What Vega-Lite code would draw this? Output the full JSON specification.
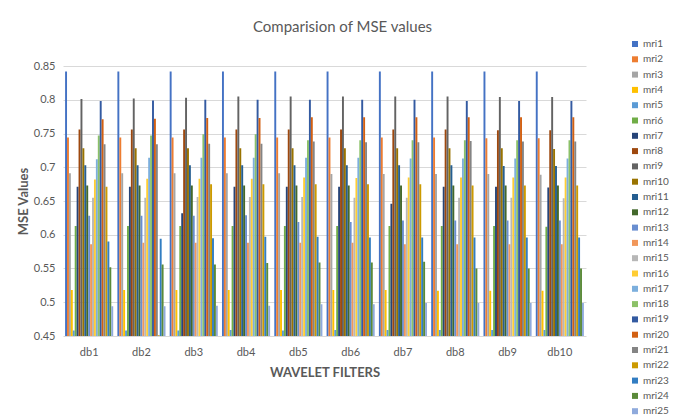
{
"$schema": "https://vega.github.io/schema/vega-lite/v6.json",
"width": 523, "height": 270,
"autosize": {"type": "none"},
"padding": {"left": 63, "top": 66, "right": 89, "bottom": 83},
"background": "white",
"title": {"text": "Comparision of MSE values", "font": "Lato", "fontSize": 15, "fontWeight": "normal", "color": "#595959", "offset": 4, "dx": 18},
"data": {"values": [
{"filter":"db1","series":"mri1","mse":0.842},{"filter":"db1","series":"mri2","mse":0.744},{"filter":"db1","series":"mri3","mse":0.691},{"filter":"db1","series":"mri4","mse":0.518},{"filter":"db1","series":"mri5","mse":0.458},{"filter":"db1","series":"mri6","mse":0.613},{"filter":"db1","series":"mri7","mse":0.671},{"filter":"db1","series":"mri8","mse":0.756},{"filter":"db1","series":"mri9","mse":0.801},{"filter":"db1","series":"mri10","mse":0.728},{"filter":"db1","series":"mri11","mse":0.703},{"filter":"db1","series":"mri12","mse":0.673},{"filter":"db1","series":"mri13","mse":0.628},{"filter":"db1","series":"mri14","mse":0.586},{"filter":"db1","series":"mri15","mse":0.655},{"filter":"db1","series":"mri16","mse":0.682},{"filter":"db1","series":"mri17","mse":0.712},{"filter":"db1","series":"mri18","mse":0.747},{"filter":"db1","series":"mri19","mse":0.798},{"filter":"db1","series":"mri20","mse":0.771},{"filter":"db1","series":"mri21","mse":0.734},{"filter":"db1","series":"mri22","mse":0.671},{"filter":"db1","series":"mri23","mse":0.590},{"filter":"db1","series":"mri24","mse":0.552},{"filter":"db1","series":"mri25","mse":0.494},
{"filter":"db2","series":"mri1","mse":0.842},{"filter":"db2","series":"mri2","mse":0.744},{"filter":"db2","series":"mri3","mse":0.691},{"filter":"db2","series":"mri4","mse":0.518},{"filter":"db2","series":"mri5","mse":0.458},{"filter":"db2","series":"mri6","mse":0.613},{"filter":"db2","series":"mri7","mse":0.671},{"filter":"db2","series":"mri8","mse":0.756},{"filter":"db2","series":"mri9","mse":0.802},{"filter":"db2","series":"mri10","mse":0.728},{"filter":"db2","series":"mri11","mse":0.703},{"filter":"db2","series":"mri12","mse":0.673},{"filter":"db2","series":"mri13","mse":0.628},{"filter":"db2","series":"mri14","mse":0.588},{"filter":"db2","series":"mri15","mse":0.655},{"filter":"db2","series":"mri16","mse":0.683},{"filter":"db2","series":"mri17","mse":0.714},{"filter":"db2","series":"mri18","mse":0.747},{"filter":"db2","series":"mri19","mse":0.799},{"filter":"db2","series":"mri20","mse":0.772},{"filter":"db2","series":"mri21","mse":0.734},{"filter":"db2","series":"mri22","mse":0.451},{"filter":"db2","series":"mri23","mse":0.594},{"filter":"db2","series":"mri24","mse":0.556},{"filter":"db2","series":"mri25","mse":0.494},
{"filter":"db3","series":"mri1","mse":0.842},{"filter":"db3","series":"mri2","mse":0.744},{"filter":"db3","series":"mri3","mse":0.691},{"filter":"db3","series":"mri4","mse":0.518},{"filter":"db3","series":"mri5","mse":0.458},{"filter":"db3","series":"mri6","mse":0.613},{"filter":"db3","series":"mri7","mse":0.632},{"filter":"db3","series":"mri8","mse":0.756},{"filter":"db3","series":"mri9","mse":0.803},{"filter":"db3","series":"mri10","mse":0.728},{"filter":"db3","series":"mri11","mse":0.703},{"filter":"db3","series":"mri12","mse":0.673},{"filter":"db3","series":"mri13","mse":0.628},{"filter":"db3","series":"mri14","mse":0.588},{"filter":"db3","series":"mri15","mse":0.656},{"filter":"db3","series":"mri16","mse":0.683},{"filter":"db3","series":"mri17","mse":0.714},{"filter":"db3","series":"mri18","mse":0.749},{"filter":"db3","series":"mri19","mse":0.800},{"filter":"db3","series":"mri20","mse":0.773},{"filter":"db3","series":"mri21","mse":0.735},{"filter":"db3","series":"mri22","mse":0.675},{"filter":"db3","series":"mri23","mse":0.595},{"filter":"db3","series":"mri24","mse":0.556},{"filter":"db3","series":"mri25","mse":0.495},
{"filter":"db4","series":"mri1","mse":0.842},{"filter":"db4","series":"mri2","mse":0.744},{"filter":"db4","series":"mri3","mse":0.691},{"filter":"db4","series":"mri4","mse":0.518},{"filter":"db4","series":"mri5","mse":0.459},{"filter":"db4","series":"mri6","mse":0.613},{"filter":"db4","series":"mri7","mse":0.671},{"filter":"db4","series":"mri8","mse":0.756},{"filter":"db4","series":"mri9","mse":0.805},{"filter":"db4","series":"mri10","mse":0.728},{"filter":"db4","series":"mri11","mse":0.703},{"filter":"db4","series":"mri12","mse":0.673},{"filter":"db4","series":"mri13","mse":0.629},{"filter":"db4","series":"mri14","mse":0.588},{"filter":"db4","series":"mri15","mse":0.656},{"filter":"db4","series":"mri16","mse":0.683},{"filter":"db4","series":"mri17","mse":0.714},{"filter":"db4","series":"mri18","mse":0.749},{"filter":"db4","series":"mri19","mse":0.800},{"filter":"db4","series":"mri20","mse":0.773},{"filter":"db4","series":"mri21","mse":0.735},{"filter":"db4","series":"mri22","mse":0.675},{"filter":"db4","series":"mri23","mse":0.597},{"filter":"db4","series":"mri24","mse":0.558},{"filter":"db4","series":"mri25","mse":0.495},
{"filter":"db5","series":"mri1","mse":0.842},{"filter":"db5","series":"mri2","mse":0.744},{"filter":"db5","series":"mri3","mse":0.691},{"filter":"db5","series":"mri4","mse":0.518},{"filter":"db5","series":"mri5","mse":0.458},{"filter":"db5","series":"mri6","mse":0.613},{"filter":"db5","series":"mri7","mse":0.671},{"filter":"db5","series":"mri8","mse":0.756},{"filter":"db5","series":"mri9","mse":0.805},{"filter":"db5","series":"mri10","mse":0.728},{"filter":"db5","series":"mri11","mse":0.703},{"filter":"db5","series":"mri12","mse":0.673},{"filter":"db5","series":"mri13","mse":0.619},{"filter":"db5","series":"mri14","mse":0.588},{"filter":"db5","series":"mri15","mse":0.656},{"filter":"db5","series":"mri16","mse":0.685},{"filter":"db5","series":"mri17","mse":0.714},{"filter":"db5","series":"mri18","mse":0.740},{"filter":"db5","series":"mri19","mse":0.800},{"filter":"db5","series":"mri20","mse":0.774},{"filter":"db5","series":"mri21","mse":0.738},{"filter":"db5","series":"mri22","mse":0.675},{"filter":"db5","series":"mri23","mse":0.597},{"filter":"db5","series":"mri24","mse":0.559},{"filter":"db5","series":"mri25","mse":0.497},
{"filter":"db6","series":"mri1","mse":0.842},{"filter":"db6","series":"mri2","mse":0.744},{"filter":"db6","series":"mri3","mse":0.690},{"filter":"db6","series":"mri4","mse":0.518},{"filter":"db6","series":"mri5","mse":0.459},{"filter":"db6","series":"mri6","mse":0.613},{"filter":"db6","series":"mri7","mse":0.671},{"filter":"db6","series":"mri8","mse":0.756},{"filter":"db6","series":"mri9","mse":0.805},{"filter":"db6","series":"mri10","mse":0.728},{"filter":"db6","series":"mri11","mse":0.703},{"filter":"db6","series":"mri12","mse":0.673},{"filter":"db6","series":"mri13","mse":0.619},{"filter":"db6","series":"mri14","mse":0.588},{"filter":"db6","series":"mri15","mse":0.655},{"filter":"db6","series":"mri16","mse":0.684},{"filter":"db6","series":"mri17","mse":0.714},{"filter":"db6","series":"mri18","mse":0.740},{"filter":"db6","series":"mri19","mse":0.800},{"filter":"db6","series":"mri20","mse":0.774},{"filter":"db6","series":"mri21","mse":0.737},{"filter":"db6","series":"mri22","mse":0.675},{"filter":"db6","series":"mri23","mse":0.596},{"filter":"db6","series":"mri24","mse":0.559},{"filter":"db6","series":"mri25","mse":0.497},
{"filter":"db7","series":"mri1","mse":0.842},{"filter":"db7","series":"mri2","mse":0.744},{"filter":"db7","series":"mri3","mse":0.690},{"filter":"db7","series":"mri4","mse":0.518},{"filter":"db7","series":"mri5","mse":0.459},{"filter":"db7","series":"mri6","mse":0.613},{"filter":"db7","series":"mri7","mse":0.646},{"filter":"db7","series":"mri8","mse":0.756},{"filter":"db7","series":"mri9","mse":0.805},{"filter":"db7","series":"mri10","mse":0.728},{"filter":"db7","series":"mri11","mse":0.703},{"filter":"db7","series":"mri12","mse":0.673},{"filter":"db7","series":"mri13","mse":0.621},{"filter":"db7","series":"mri14","mse":0.586},{"filter":"db7","series":"mri15","mse":0.655},{"filter":"db7","series":"mri16","mse":0.685},{"filter":"db7","series":"mri17","mse":0.713},{"filter":"db7","series":"mri18","mse":0.740},{"filter":"db7","series":"mri19","mse":0.800},{"filter":"db7","series":"mri20","mse":0.774},{"filter":"db7","series":"mri21","mse":0.737},{"filter":"db7","series":"mri22","mse":0.675},{"filter":"db7","series":"mri23","mse":0.596},{"filter":"db7","series":"mri24","mse":0.560},{"filter":"db7","series":"mri25","mse":0.499},
{"filter":"db8","series":"mri1","mse":0.842},{"filter":"db8","series":"mri2","mse":0.744},{"filter":"db8","series":"mri3","mse":0.690},{"filter":"db8","series":"mri4","mse":0.517},{"filter":"db8","series":"mri5","mse":0.459},{"filter":"db8","series":"mri6","mse":0.613},{"filter":"db8","series":"mri7","mse":0.671},{"filter":"db8","series":"mri8","mse":0.756},{"filter":"db8","series":"mri9","mse":0.805},{"filter":"db8","series":"mri10","mse":0.728},{"filter":"db8","series":"mri11","mse":0.703},{"filter":"db8","series":"mri12","mse":0.673},{"filter":"db8","series":"mri13","mse":0.621},{"filter":"db8","series":"mri14","mse":0.586},{"filter":"db8","series":"mri15","mse":0.655},{"filter":"db8","series":"mri16","mse":0.685},{"filter":"db8","series":"mri17","mse":0.713},{"filter":"db8","series":"mri18","mse":0.740},{"filter":"db8","series":"mri19","mse":0.798},{"filter":"db8","series":"mri20","mse":0.774},{"filter":"db8","series":"mri21","mse":0.739},{"filter":"db8","series":"mri22","mse":0.673},{"filter":"db8","series":"mri23","mse":0.596},{"filter":"db8","series":"mri24","mse":0.550},{"filter":"db8","series":"mri25","mse":0.499},
{"filter":"db9","series":"mri1","mse":0.842},{"filter":"db9","series":"mri2","mse":0.743},{"filter":"db9","series":"mri3","mse":0.690},{"filter":"db9","series":"mri4","mse":0.517},{"filter":"db9","series":"mri5","mse":0.459},{"filter":"db9","series":"mri6","mse":0.613},{"filter":"db9","series":"mri7","mse":0.671},{"filter":"db9","series":"mri8","mse":0.755},{"filter":"db9","series":"mri9","mse":0.804},{"filter":"db9","series":"mri10","mse":0.728},{"filter":"db9","series":"mri11","mse":0.702},{"filter":"db9","series":"mri12","mse":0.673},{"filter":"db9","series":"mri13","mse":0.621},{"filter":"db9","series":"mri14","mse":0.586},{"filter":"db9","series":"mri15","mse":0.655},{"filter":"db9","series":"mri16","mse":0.685},{"filter":"db9","series":"mri17","mse":0.713},{"filter":"db9","series":"mri18","mse":0.740},{"filter":"db9","series":"mri19","mse":0.798},{"filter":"db9","series":"mri20","mse":0.774},{"filter":"db9","series":"mri21","mse":0.738},{"filter":"db9","series":"mri22","mse":0.673},{"filter":"db9","series":"mri23","mse":0.596},{"filter":"db9","series":"mri24","mse":0.550},{"filter":"db9","series":"mri25","mse":0.499},
{"filter":"db10","series":"mri1","mse":0.842},{"filter":"db10","series":"mri2","mse":0.743},{"filter":"db10","series":"mri3","mse":0.689},{"filter":"db10","series":"mri4","mse":0.517},{"filter":"db10","series":"mri5","mse":0.459},{"filter":"db10","series":"mri6","mse":0.612},{"filter":"db10","series":"mri7","mse":0.670},{"filter":"db10","series":"mri8","mse":0.755},{"filter":"db10","series":"mri9","mse":0.804},{"filter":"db10","series":"mri10","mse":0.727},{"filter":"db10","series":"mri11","mse":0.702},{"filter":"db10","series":"mri12","mse":0.673},{"filter":"db10","series":"mri13","mse":0.621},{"filter":"db10","series":"mri14","mse":0.586},{"filter":"db10","series":"mri15","mse":0.654},{"filter":"db10","series":"mri16","mse":0.685},{"filter":"db10","series":"mri17","mse":0.713},{"filter":"db10","series":"mri18","mse":0.740},{"filter":"db10","series":"mri19","mse":0.798},{"filter":"db10","series":"mri20","mse":0.774},{"filter":"db10","series":"mri21","mse":0.738},{"filter":"db10","series":"mri22","mse":0.673},{"filter":"db10","series":"mri23","mse":0.596},{"filter":"db10","series":"mri24","mse":0.550},{"filter":"db10","series":"mri25","mse":0.499}
]},
"mark": {"type": "bar", "clip": true},
"encoding": {
  "x": {"field": "filter", "type": "nominal", "sort": ["db1","db2","db3","db4","db5","db6","db7","db8","db9","db10"],
    "scale": {"paddingInner": 0.08, "paddingOuter": 0.04},
    "axis": {"title": "WAVELET FILTERS", "labelAngle": 0, "ticks": false, "domain": false, "labelPadding": 10, "labelFont": "Lato", "labelFontSize": 11, "labelColor": "#595959", "titleFont": "Lato", "titleFontSize": 13, "titleFontWeight": "bold", "titleColor": "#595959", "titlePadding": 9}},
  "xOffset": {"field": "series", "type": "nominal",
    "sort": ["mri1","mri2","mri3","mri4","mri5","mri6","mri7","mri8","mri9","mri10","mri11","mri12","mri13","mri14","mri15","mri16","mri17","mri18","mri19","mri20","mri21","mri22","mri23","mri24","mri25"],
    "scale": {"paddingInner": 0, "paddingOuter": 0}},
  "y": {"field": "mse", "type": "quantitative",
    "scale": {"domain": [0.45, 0.85], "zero": false, "nice": false},
    "axis": {"title": "MSE Values", "values": [0.45,0.5,0.55,0.6,0.65,0.7,0.75,0.8,0.85], "format": ".2~f", "grid": true, "gridColor": "#D9D9D9", "gridWidth": 1, "domain": false, "ticks": false, "labelPadding": 8, "labelFont": "Lato", "labelFontSize": 11, "labelColor": "#595959", "titleFont": "Lato", "titleFontSize": 13, "titleFontWeight": "bold", "titleColor": "#595959", "titlePadding": 3}},
  "color": {"field": "series", "type": "nominal",
    "scale": {"domain": ["mri1","mri2","mri3","mri4","mri5","mri6","mri7","mri8","mri9","mri10","mri11","mri12","mri13","mri14","mri15","mri16","mri17","mri18","mri19","mri20","mri21","mri22","mri23","mri24","mri25"],
      "range": ["#4472C4","#ED7D31","#A5A5A5","#FFC000","#5B9BD5","#70AD47","#264478","#9E480E","#636363","#997300","#255E91","#43682B","#698ED0","#F1975A","#B7B7B7","#FFCD33","#7CAFDD","#8CC168","#335AA1","#D26012","#848484","#CC9A00","#327DC2","#5A8A39","#8FAADC"]},
    "legend": {"orient": "none", "legendX": 567, "legendY": -27, "title": null, "symbolType": "square", "symbolSize": 36, "symbolStrokeWidth": 0, "labelFont": "Lato", "labelFontSize": 10, "labelColor": "#595959", "labelOffset": 3, "rowPadding": 5.3, "padding": 0, "columns": 1}}
},
"config": {"view": {"stroke": null}}
}
